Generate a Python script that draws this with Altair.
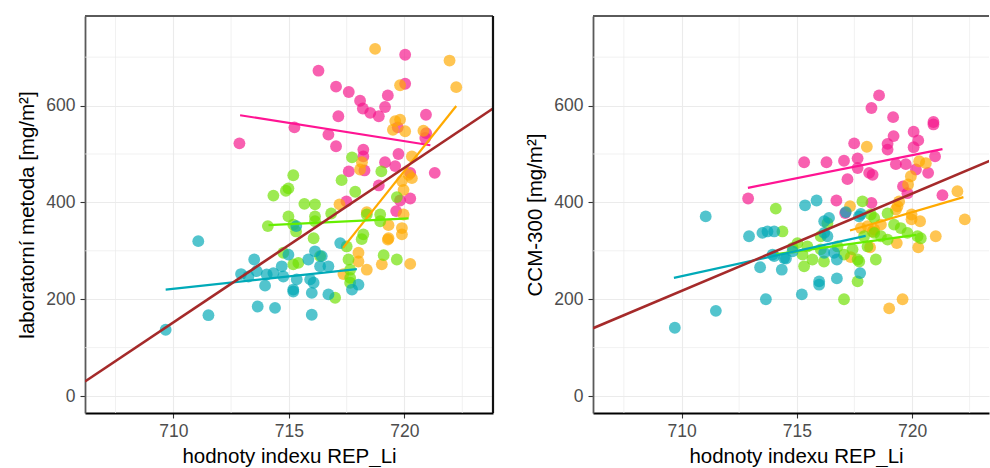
import altair as alt
import pandas as pd

GROUPS = ["A", "B", "C", "D"]
COLORS = ["#F5158A", "#FFAA00", "#6FE000", "#00A8B5"]
LINE_COLORS = ["#FF1493", "#FFAA00", "#66EE00", "#00AAB8"]

# ---------------- left panel: laboratorní metoda ----------------
lx_pink = [716.28, 720.03, 720.03, 717.04, 717.59, 718.08, 718.20, 718.52, 718.89, 719.16,
           719.28, 717.14, 720.93, 715.24, 716.71, 717.04, 712.86, 718.22, 718.22, 719.74,
           719.60, 719.16, 717.59, 718.27, 720.25, 721.31, 720.94, 720.90, 719.71, 718.89,
           717.49, 719.81, 720.25, 719.64]
ly_pink = [672, 705, 645, 639, 628, 610, 594, 585, 578, 597,
           621, 578, 581, 555, 540, 516, 522, 509, 495, 500,
           475, 483, 464, 466, 461, 461, 543, 533, 555, 435,
           402, 404, 408, 382]

lx_orange = [718.73, 721.95, 722.24, 719.81, 719.81, 719.60, 719.50, 720.03, 720.82, 720.32,
             718.16, 718.08, 720.18, 720.32, 719.89, 719.96, 717.19, 718.37, 719.96, 719.31,
             719.89, 719.89, 719.31, 719.28, 718.01, 718.01, 718.37, 719.02, 720.25, 717.36]
ly_orange = [717, 693, 638, 642, 571, 568, 550, 547, 548, 495,
             483, 468, 457, 450, 444, 426, 396, 380, 375, 353,
             347, 334, 326, 323, 296, 278, 261, 272, 273, 252]

lx_green = [717.73, 719.00, 715.19, 717.28, 714.33, 714.87, 714.98, 717.87, 719.67, 715.67,
            716.13, 714.98, 716.13, 716.13, 716.83, 718.37, 718.95, 718.95, 714.09, 715.31,
            716.07, 718.22, 718.15, 719.10, 719.67, 717.65, 717.65, 717.00, 715.19, 717.50,
            714.76, 716.35, 715.19, 715.41, 717.65, 717.58]
ly_green = [493, 464, 456, 446, 414, 424, 429, 422, 411, 397,
            396, 371, 371, 361, 377, 375, 375, 361, 351, 340,
            326, 334, 324, 291, 282, 244, 234, 203, 354, 309,
            296, 289, 272, 275, 261, 282]

lx_teal = [711.08, 711.52, 709.67, 713.65, 714.40, 715.99, 715.99, 716.71, 715.19, 715.19,
           713.97, 712.93, 713.50, 713.25, 713.61, 714.04, 714.33, 714.76, 714.69, 714.98,
           715.34, 715.84, 715.92, 716.07, 716.13, 716.42, 716.71, 716.35, 715.32, 717.22,
           718.01, 717.73]
ly_teal = [320, 167, 137, 185, 182, 168, 213, 210, 220, 216,
           228, 252, 282, 247, 258, 251, 254, 247, 268, 292,
           241, 282, 241, 234, 299, 289, 268, 268, 351, 316,
           230, 220]

# fitted lines per group (start / end)
lfit_x = {"A": [712.89, 721.12], "B": [717.34, 722.24], "C": [714.12, 720.18], "D": [709.67, 717.94]}
lfit_y = {"A": [580, 518], "B": [306, 599], "C": [353, 367], "D": [220, 262]}
lall_x = [706.18, 723.83]
lall_y = [30, 594]

# ---------------- right panel: CCM-300 ----------------
rx_pink = [718.57, 718.24, 719.18, 720.93, 720.93, 720.07, 719.20, 720.27, 717.49, 718.94,
           718.94, 720.07, 715.32, 716.29, 717.05, 717.64, 717.64, 719.30, 719.73, 721.00,
           720.70, 718.14, 718.29, 717.20, 720.17, 719.61, 719.80, 721.32, 712.89, 716.72,
           718.24, 717.10]
ry_pink = [621, 595, 576, 566, 561, 546, 537, 528, 522, 521,
           509, 514, 483, 483, 486, 491, 471, 479, 479, 495,
           461, 461, 457, 448, 468, 433, 419, 415, 408, 404,
           399, 378]

rx_orange = [718.04, 720.31, 720.60, 719.95, 719.83, 721.97, 719.44, 717.31, 719.30, 719.98,
             722.29, 720.35, 721.03, 718.29, 719.98, 719.37, 718.07, 718.36, 717.78, 718.65,
             719.34, 720.27, 718.18, 717.34, 719.01, 719.59]
ry_orange = [515, 485, 481, 454, 437, 423, 402, 392, 385, 375,
             365, 361, 330, 340, 365, 392, 351, 344, 347, 354,
             316, 307, 307, 287, 181, 200]

rx_green = [714.09, 717.85, 718.94, 718.36, 714.38, 718.21, 716.33, 719.22, 719.51, 719.80,
            720.24, 720.38, 718.36, 718.65, 718.94, 717.92, 715.03, 714.82, 715.46, 715.25,
            716.04, 716.18, 716.77, 717.05, 717.42, 717.64, 718.07, 718.43, 715.32, 715.68,
            717.64, 717.05, 716.04, 717.71]
ry_green = [387, 402, 377, 368, 340, 375, 357, 354, 347, 337,
            330, 326, 337, 330, 323, 330, 316, 306, 309, 292,
            303, 278, 309, 292, 303, 282, 309, 282, 268, 282,
            237, 200, 330, 278]

rx_teal = [711.05, 715.36, 715.86, 716.19, 716.40, 712.93, 713.51, 713.73, 714.02, 717.13,
           717.70, 716.62, 717.78, 713.41, 714.35, 713.66, 715.22, 715.97, 715.97, 716.74,
           716.74, 717.75, 714.02, 714.53, 714.82, 716.19, 716.33, 711.49, 709.71, 713.95,
           714.45, 716.19]
ry_teal = [371, 394, 404, 361, 368, 330, 337, 340, 340, 380,
           371, 296, 376, 266, 261, 200, 210, 237, 230, 243,
           282, 254, 289, 284, 299, 337, 330, 176, 141, 292,
           285, 296]

rfit_x = {"A": [712.88, 721.32], "B": [717.31, 722.23], "C": [714.12, 720.18], "D": [709.67, 717.99]}
rfit_y = {"A": [430, 510], "B": [342, 411], "C": [293, 333], "D": [244, 331]}
rall_x = [706.16, 723.38]
rall_y = [140, 486]

X_MAJOR = [710, 715, 720]
X_MINOR = [707.5, 712.5, 717.5, 722.5]
Y_MAJOR = [0, 200, 400, 600]
Y_MINOR = [100, 300, 500, 700]
Y_DOMAIN = [-35, 785]

XTITLE = "hodnoty indexu REP_Li"
FONT = "Liberation Sans"
H = 397


def points_df(xs, ys):
    rows = []
    for g, xv, yv in zip(GROUPS, xs, ys):
        for a, b in zip(xv, yv):
            rows.append({"x": a, "y": b, "grp": g})
    return pd.DataFrame(rows)


def fits_df(fx, fy):
    rows = []
    for g in GROUPS:
        for a, b in zip(fx[g], fy[g]):
            rows.append({"x": a, "y": b, "grp": g})
    return pd.DataFrame(rows)


def panel(xs, ys, fx, fy, ax, ay, ytitle, width, xdom, right_border, title_x):
    xaxis = alt.Axis(values=X_MAJOR, grid=True, gridColor="#ebebeb", gridWidth=1.1,
                     domainColor="black", domainWidth=2, tickColor="#333333", tickSize=5,
                     tickWidth=1.1, labelColor="#4d4d4d", labelFontSize=17.5, labelFont=FONT,
                     labelPadding=4, titleFont=FONT, titleFontSize=20.5, titleFontWeight="normal",
                     titleColor="black", titlePadding=7, labelFlush=False, format="d",
                     titleX=title_x)
    yaxis = alt.Axis(values=Y_MAJOR, grid=True, gridColor="#ebebeb", gridWidth=1.1,
                     domainColor="#5a5a5a", domainWidth=1.8, tickColor="#333333", tickSize=5,
                     tickWidth=1.1, labelColor="#4d4d4d", labelFontSize=17.5, labelFont=FONT,
                     labelPadding=5, titleFont=FONT, titleFontSize=20.5, titleFontWeight="normal",
                     titleColor="black", titlePadding=8, labelFlush=False, format="d")
    xs_ = alt.Scale(domain=xdom, nice=False, zero=False)
    ys_ = alt.Scale(domain=Y_DOMAIN, nice=False, zero=False)
    X = alt.X("x:Q", scale=xs_, axis=xaxis, title=XTITLE)
    Y = alt.Y("y:Q", scale=ys_, axis=yaxis, title=ytitle)
    col = alt.Color("grp:N", scale=alt.Scale(domain=GROUPS, range=COLORS), legend=None)
    lcol = alt.Color("grp:N", scale=alt.Scale(domain=GROUPS, range=LINE_COLORS), legend=None)

    minor_x = alt.Chart(pd.DataFrame({"x": X_MINOR})).mark_rule(
        color="#ebebeb", strokeWidth=0.7).encode(x=X)
    minor_y = alt.Chart(pd.DataFrame({"y": Y_MINOR})).mark_rule(
        color="#ebebeb", strokeWidth=0.7).encode(y=Y)
    pts = alt.Chart(points_df(xs, ys)).mark_circle(size=140, opacity=0.68).encode(
        x=X, y=Y, color=col)
    fits = alt.Chart(fits_df(fx, fy)).mark_line(strokeWidth=2.2, clip=True).encode(
        x=X, y=Y, color=lcol, detail="grp:N")
    overall = alt.Chart(pd.DataFrame({"x": ax, "y": ay})).mark_line(
        strokeWidth=2.6, color="#A52A2A", clip=True).encode(x=X, y=Y)
    top = alt.Chart(pd.DataFrame({"k": [0]})).mark_rule(
        color="#5a5a5a", strokeWidth=1.8).encode(
        x=alt.value(0), x2=alt.value(width), y=alt.value(0))
    layers = [minor_x, minor_y, pts, fits, overall, top]
    if right_border:
        rb = alt.Chart(pd.DataFrame({"k": [0]})).mark_rule(
            color="#111111", strokeWidth=2.2).encode(
            x=alt.value(width), y=alt.value(0), y2=alt.value(H))
        layers.append(rb)
    return alt.layer(*layers).resolve_scale(color="independent").properties(
        width=width, height=H)


left = panel([lx_pink, lx_orange, lx_green, lx_teal], [ly_pink, ly_orange, ly_green, ly_teal],
             lfit_x, lfit_y, lall_x, lall_y, "laboratorní metoda [mg/m²]", 408,
             [706.18, 723.83], True, 204)
right = panel([rx_pink, rx_orange, rx_green, rx_teal], [ry_pink, ry_orange, ry_green, ry_teal],
              rfit_x, rfit_y, rall_x, rall_y, "CCM-300 [mg/m²]", 396,
              [706.16, 723.34], False, 203)

chart = alt.hconcat(left, right, spacing=100, bounds="flush").properties(
    padding={"left": 17, "top": 14, "right": 0, "bottom": 0},
    background="white",
).configure_view(strokeWidth=0)

chart.save("out.html", embed_options={"renderer": "svg", "actions": False})
